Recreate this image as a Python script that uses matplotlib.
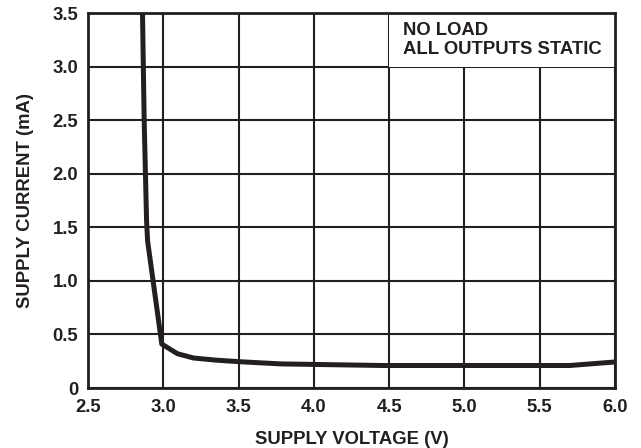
import matplotlib
matplotlib.use("Agg")
import matplotlib.pyplot as plt
from matplotlib.patches import Rectangle

voltage = [2.862, 2.873, 2.889, 2.896, 2.99, 3.094, 3.20, 3.35, 3.51, 3.78, 4.0, 4.46, 5.0, 5.5, 5.70, 6.0]
current = [3.50, 2.50, 1.56, 1.37, 0.41, 0.32, 0.28, 0.26, 0.245, 0.225, 0.22, 0.21, 0.21, 0.21, 0.21, 0.243]

xticks = [2.5, 3.0, 3.5, 4.0, 4.5, 5.0, 5.5, 6.0]
xticklabels = ["2.5", "3.0", "3.5", "4.0", "4.5", "5.0", "5.5", "6.0"]
yticks = [0, 0.5, 1.0, 1.5, 2.0, 2.5, 3.0, 3.5]
yticklabels = ["0", "0.5", "1.0", "1.5", "2.0", "2.5", "3.0", "3.5"]

plt.rcParams['font.family'] = ['Liberation Sans', 'DejaVu Sans']
plt.rcParams['font.weight'] = 'bold'

FS = 13.3
fig = plt.figure(figsize=(6.41, 4.48), dpi=100)
ax = fig.add_axes([88/641, 1 - 388/448, (615-88)/641, (388-13)/448])

ax.set_xlim(2.5, 6.0)
ax.set_ylim(0, 3.5)
ax.set_xticks(xticks)
ax.set_xticklabels(xticklabels, fontsize=FS, fontweight='bold', color='#231f20')
ax.set_yticks(yticks)
ax.set_yticklabels(yticklabels, fontsize=FS, fontweight='bold', color='#231f20')
ax.tick_params(axis='x', length=0, pad=8)
ax.tick_params(axis='y', length=0, pad=7)
ax.grid(True, color='#231f20', linewidth=1.5)
ax.set_axisbelow(True)
for s in ax.spines.values():
    s.set_linewidth(2)
    s.set_color('#231f20')

ax.add_patch(Rectangle((4.5, 3.0), 1.5, 0.5, facecolor='white', edgecolor='none', zorder=1.5))
ax.text(4.59, 3.42, "NO LOAD\nALL OUTPUTS STATIC", fontsize=FS, fontweight='bold',
        color='#231f20', va='top', ha='left', linespacing=1.15, zorder=3)

ax.plot(voltage, current, color='#231f20', linewidth=3.6, solid_joinstyle='round', zorder=4, clip_on=True)

ax.set_xlabel("SUPPLY VOLTAGE (V)", fontsize=FS, fontweight='bold', color='#231f20', labelpad=11)
ax.set_ylabel("SUPPLY CURRENT (mA)", fontsize=FS, fontweight='bold', color='#231f20', labelpad=13)

fig.savefig("out.png", dpi=100)
